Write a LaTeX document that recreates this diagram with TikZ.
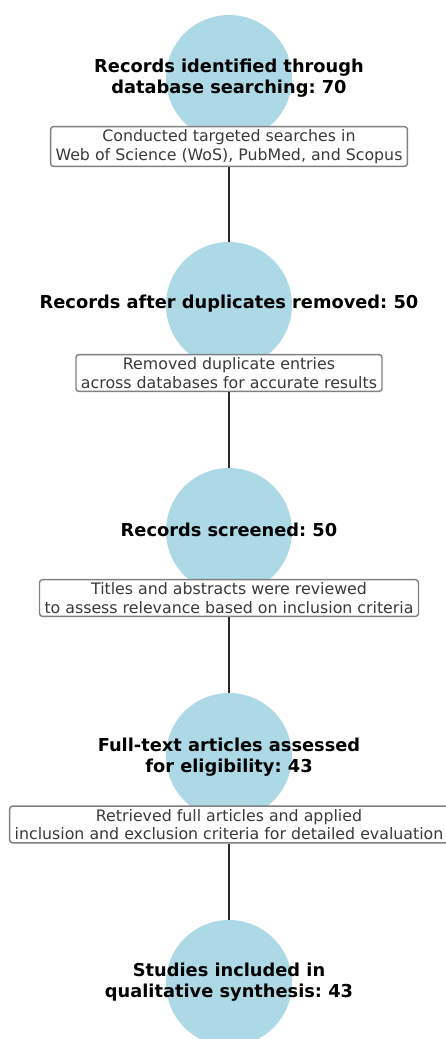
\documentclass[tikz,border=0pt]{standalone}
\usepackage{fontspec}
\setmainfont{DejaVu Sans}
\frenchspacing
\definecolor{cblue}{HTML}{ADD8E6}
\definecolor{boxgray}{HTML}{808080}
\definecolor{notegray}{HTML}{3A3A3A}
\definecolor{linegray}{HTML}{2A2A2A}
\tikzset{
  stage/.style={circle, fill=cblue, minimum size=126pt, inner sep=0pt},
  stagetext/.style={font=\bfseries\fontsize{17.8}{20.5}\selectfont, align=center, text=black, inner sep=0pt},
  note/.style={draw=boxgray, line width=1.4pt, rounded corners=3pt, fill=white, text=notegray,
    font=\fontsize{15.8}{18.6}\selectfont, align=center, inner xsep=5pt, inner ysep=3pt},
  link/.style={draw=linegray, line width=1.8pt}
}
\begin{document}
\begin{tikzpicture}[x=1pt,y=-1pt]
\useasboundingbox (0,0) rectangle (446,1039);
\clip (0,0) rectangle (446,1039);
% circles
\node[stage] (c1) at (229,78) {};
\node[stage] (c2) at (229,305) {};
\node[stage] (c3) at (229,531) {};
\node[stage] (c4) at (229,756) {};
\node[stage] (c5) at (229,983) {};
% stage texts
\node[stagetext] (t1) at (229,78) {Records identified through\\database searching: 70};
\node[stagetext] (t2) at (229,304) {Records after duplicates removed: 50};
\node[stagetext] (t3) at (229,530) {Records screened: 50};
\node[stagetext] (t4) at (229,757) {Full-text articles assessed\\for eligibility: 43};
\node[stagetext] (t5) at (229,982) {Studies included in\\qualitative synthesis: 43};
% notes
\node[note] (n1) at (229,146.5) {Conducted targeted searches in\\Web of Science (WoS), PubMed, and Scopus};
\node[note] (n2) at (229,373) {Removed duplicate entries\\across databases for accurate results};
\node[note] (n3) at (229,598) {Titles and abstracts were reviewed\\to assess relevance based on inclusion criteria};
\node[note] (n4) at (229,824.5) {Retrieved full articles and applied\\inclusion and exclusion criteria for detailed evaluation};
% connectors
\draw[link] (n1.south) -- (c2.north);
\draw[link] (n2.south) -- (c3.north);
\draw[link] (n3.south) -- (c4.north);
\draw[link] (n4.south) -- (c5.north);
\end{tikzpicture}
\end{document}
